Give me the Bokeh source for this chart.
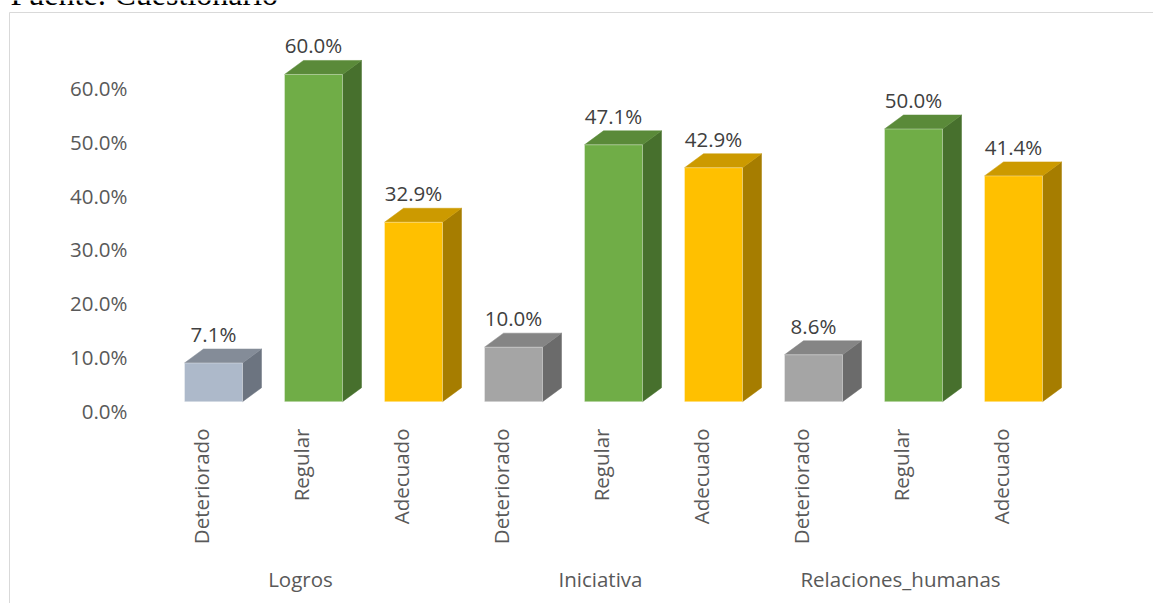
import math
from bokeh.plotting import figure
from bokeh.models import (Range1d, LinearAxis, FixedTicker, PrintfTickFormatter)
from bokeh.core.properties import value
from bokeh.embed import file_html
from bokeh.resources import INLINE

# ---------------- data ----------------
groups = ["Logros", "Iniciativa", "Relaciones_humanas"]
levels = ["Deteriorado", "Regular", "Adecuado"]
logros = [7.1, 60.0, 32.9]
iniciativa = [10.0, 47.1, 42.9]
relaciones = [8.6, 50.0, 41.4]
y_ticks = [0, 10, 20, 30, 40, 50, 60]
source_note = "Fuente: Cuestionario"

# ---------------- styles / layout ----------------
FRONT = {"Deteriorado": "#A5A5A5", "Regular": "#70AD47", "Adecuado": "#FFC000"}
TOP = {"Deteriorado": "#858585", "Regular": "#5A8A39", "Adecuado": "#CC9A00"}
SIDE = {"Deteriorado": "#6B6B6B", "Regular": "#47702D", "Adecuado": "#A67D00"}
FIRST_FRONT, FIRST_TOP, FIRST_SIDE = "#ADB9CA", "#848C98", "#6C7480"
FONT = "Open Sans"
FS = "20.5px"
AXIS_TXT = "#595959"

W, H = 1153, 603
X0, SLOT = 200.0, 100.0        # px of first slot centre, px per slot
Y0, PXV = 401.2, 5.454         # px of bar-front zero line, px per percent
AY0, APXV = 410.0, 5.37        # axis-label (back wall) scale
FL, FR = -0.16, 0.42           # front face inside a slot (slot units)
DX = 19 / SLOT                 # 3-D depth offsets
DY = 14 / PXV


def xd(px):
    return (px - X0) / SLOT


def yd(py):
    return (Y0 - py) / PXV


p = figure(width=W, height=H,
           x_range=Range1d(xd(0), xd(W)), y_range=Range1d(yd(H), yd(0)),
           output_backend="svg", toolbar_location=None,
           x_axis_location=None, y_axis_location=None,
           min_border=0, min_border_left=0, min_border_right=0,
           min_border_top=0, min_border_bottom=0)
p.outline_line_color = None
p.grid.visible = False
p.background_fill_color = "white"
p.border_fill_color = "white"
p.extra_y_ranges = {"axis": Range1d((AY0 - H) / APXV, AY0 / APXV)}

# ---------------- chart border + source note ----------------
p.line(x=[xd(9), xd(9), xd(W + 5)], y=[yd(H + 5), yd(12), yd(12)],
       line_color="#d9d9d9", line_width=1)
p.text(x=[xd(10)], y=[yd(-7)], text=[source_note],
       text_font=value("Liberation Serif"), text_font_size="32px",
       text_color="black", text_align="left", text_baseline="alphabetic")

# ---------------- bars ----------------
values = logros + iniciativa + relaciones
cats = [c for g in groups for c in levels]
lefts, rights, tops, bottoms = [], [], [], []
fc, tc, sc = [], [], []
txs, tys, sxs, sys_ = [], [], [], []
lx, ly, ltxt = [], [], []
for k, (c, v) in enumerate(zip(cats, values)):
    l, r = k + FL, k + FR
    lefts.append(l); rights.append(r); tops.append(v); bottoms.append(0)
    if k == 0:
        fc.append(FIRST_FRONT); tc.append(FIRST_TOP); sc.append(FIRST_SIDE)
    else:
        fc.append(FRONT[c]); tc.append(TOP[c]); sc.append(SIDE[c])
    txs.append([l, r, r + DX, l + DX]); tys.append([v, v, v + DY, v + DY])
    sxs.append([r, r + DX, r + DX, r]); sys_.append([0, DY, v + DY, v])
    lx.append((l + r) / 2); ly.append(v + DY); ltxt.append(f"{v:.1f}%")

p.patches(xs=sxs, ys=sys_, fill_color=sc, line_color=sc, line_width=0.5)
p.patches(xs=txs, ys=tys, fill_color=tc, line_color=tc, line_width=0.5)
p.quad(left=lefts, right=rights, top=tops, bottom=bottoms, fill_color=fc,
       line_color="white", line_alpha=0.35, line_width=1)
p.text(x=lx, y=ly, text=ltxt, text_font=value(FONT), text_font_size=FS,
       text_color="#404040", text_align="center", text_baseline="alphabetic",
       y_offset=-15)


# ---------------- axes ----------------
def style(ax, standoff):
    ax.major_label_text_font = FONT
    ax.major_label_text_font_size = FS
    ax.major_label_text_color = AXIS_TXT
    ax.major_label_standoff = standoff
    ax.axis_line_color = None
    ax.major_tick_line_color = None
    ax.major_tick_out = 0
    ax.major_tick_in = 0
    ax.minor_tick_line_color = None


cat_ticks = list(range(len(cats)))
xa = LinearAxis(ticker=FixedTicker(ticks=cat_ticks),
                major_label_overrides={t: c for t, c in zip(cat_ticks, cats)},
                fixed_location=yd(415))
style(xa, 13)
xa.major_label_orientation = math.pi / 2
p.add_layout(xa, "below")

grp_ticks = [i * len(levels) + (len(levels) - 1) / 2 for i in range(len(groups))]
ga = LinearAxis(ticker=FixedTicker(ticks=grp_ticks),
                major_label_overrides={t: g for t, g in zip(grp_ticks, groups)},
                fixed_location=yd(550))
style(ga, 14)
p.add_layout(ga, "below")

ya = LinearAxis(y_range_name="axis", ticker=FixedTicker(ticks=y_ticks),
                formatter=PrintfTickFormatter(format="%.1f%%"),
                fixed_location=xd(150))
style(ya, 23)
p.add_layout(ya, "left")

open("out.html", "w").write(file_html(p, INLINE))
